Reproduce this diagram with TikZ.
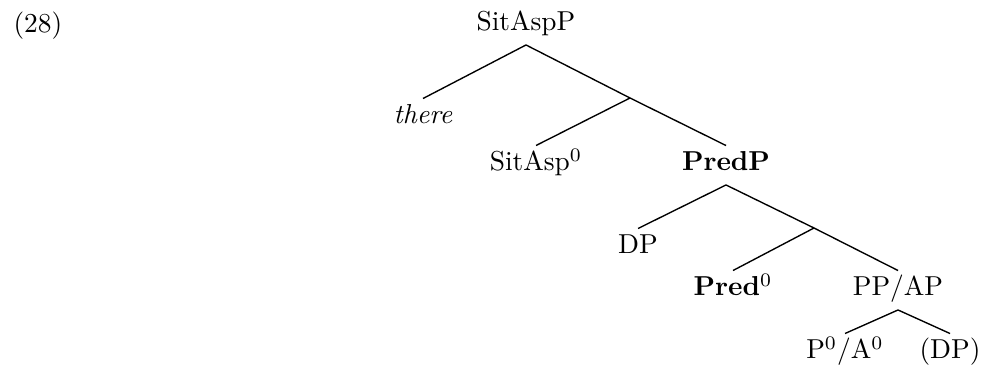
\documentclass[tikz,border=0pt]{standalone}
\begin{document}
\begin{tikzpicture}[x=0.365pt,y=-0.365pt,
  tn/.style={inner sep=0pt, outer sep=0pt, text height=9.3pt, text depth=5.1pt, anchor=base},
  br/.style={line width=0.5pt}]
\useasboundingbox (0,0) rectangle (981,366);
\node[anchor=base west, inner sep=0pt] (ex) at (13,33) {(28)};
\node[tn] (sitaspp) at (526,31) {SitAspP};
\node[tn] (there) at (423,124) {\textit{there}};
\coordinate (b1) at (630,98);
\node[tn] (sitasp0) at (536,171) {SitAsp$^0$};
\node[tn] (predp) at (726,171) {\textbf{PredP}};
\node[tn] (dp) at (638,254) {DP};
\coordinate (b2) at (814,228);
\node[tn] (pred0) at (733,296) {\textbf{Pred}$^0$};
\node[tn] (ppap) at (898,296) {PP/AP};
\node[tn] (pa0) at (845,359) {P$^0$/A$^0$};
\node[tn] (dp2) at (950,359) {(DP)};
\draw[br] (sitaspp.south) -- (there.north);
\draw[br] (sitaspp.south) -- (b1) -- (predp.north);
\draw[br] (b1) -- (sitasp0.north);
\draw[br] (predp.south) -- (dp.north);
\draw[br] (predp.south) -- (b2) -- (ppap.north);
\draw[br] (b2) -- (pred0.north);
\draw[br] (ppap.south) -- (pa0.north);
\draw[br] (ppap.south) -- (dp2.north);
\end{tikzpicture}
\end{document}
